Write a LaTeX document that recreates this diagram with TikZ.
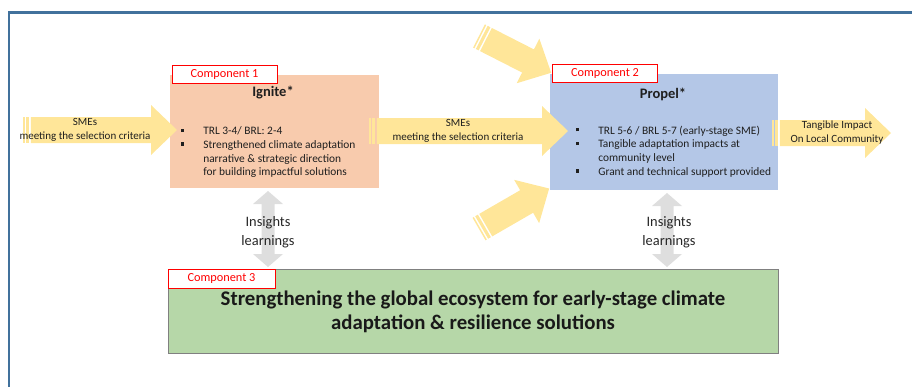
\documentclass[tikz,border=0pt]{standalone}
\usepackage{fontspec}
\setmainfont{Carlito}
\usetikzlibrary{calc}
\definecolor{framecol}{RGB}{65,113,156}
\definecolor{arrowyel}{RGB}{255,230,153}
\definecolor{ignitecol}{RGB}{248,203,173}
\definecolor{propelcol}{RGB}{180,199,231}
\definecolor{ecocol}{RGB}{182,215,168}
\definecolor{insightcol}{RGB}{222,222,222}
\def\striparrow[#1](#2)(#3:#4){%
	\begin{scope}[shift={(#2)}, rotate=#3]
		\fill[#1] (0,-13) rectangle (1.5,13);
		\fill[#1] (3.1,-13) rectangle (6.2,13);
		\fill[#1] (7.8,-13) -- ({#4-26},-13) -- ({#4-26},-25) -- (#4,0) -- ({#4-26},25) -- ({#4-26},13) -- (7.8,13) -- cycle;
	\end{scope}}
\def\twoway[#1](#2:#3:#4){\fill[#1] (#2,#3) -- ({#2+15},{#3+13}) -- ({#2+6.5},{#3+13}) -- ({#2+6.5},{#4-13}) -- ({#2+15},{#4-13}) -- (#2,#4) -- ({#2-15},{#4-13}) -- ({#2-6.5},{#4-13}) -- ({#2-6.5},{#3+13}) -- ({#2-15},{#3+13}) -- cycle;}
\newcommand{\sqb}{\rule[2.6pt]{3.6pt}{3.6pt}}

\begin{document}
\begin{tikzpicture}[x=1pt, y=-1pt,
	complabel/.style={draw=red, line width=0.9pt, fill=white, text=red, minimum width=105, minimum height=18, inner sep=0pt, font=\fontsize{12.3}{14}\selectfont},
	arrtxt/.style={align=center, inner sep=0pt, text=black!88, font=\fontsize{11}{14}\selectfont},
	boxhead/.style={inner sep=0pt, text=black!88, font=\bfseries\fontsize{14.5}{17}\selectfont},
	listtxt/.style={anchor=base west, inner sep=0pt, text=black!88, font=\fontsize{11.4}{13.7}\selectfont},
	insight/.style={align=center, inner sep=0pt, text=black!85, font=\fontsize{14.4}{18.5}\selectfont}]
			%%%%% START %%%%%
			
			\useasboundingbox (0,0) rectangle (912,386);
			\draw[framecol, line width=2.6pt] (9,12.5) rectangle (940,410);
			
			\fill[ignitecol] (170,75) rectangle (379,188);
			\fill[propelcol] (550,74) rectangle (778,190);
			\draw[ecocol, fill=ecocol, draw=black!50, line width=0.8pt] (168,269) rectangle (778,353);
			
			\twoway[insightcol](268:191:267);
			\twoway[insightcol](667:193:267);
			
			\striparrow[arrowyel](23,130)(0:154);
			\striparrow[arrowyel](369,131)(0:199);
			\striparrow[arrowyel](772,133)(0:119);
			\striparrow[arrowyel](479,36)(-27:81);
			\striparrow[arrowyel](479,229)(30:81);
			
			\node[complabel] (comp1) at (224.5,74) {Component 1};
			\node[complabel] (comp2) at (605,73) {Component 2};
			\node[complabel, minimum width=107, minimum height=19] (comp3) at (221.5,278.5) {Component 3};
			
			\node[boxhead] (ignite) at (273,93) {Ignite*};
			\node[boxhead] (propel) at (663,94) {Propel*};
			
			\node[listtxt] (ignitelist) at (180.5,134.8) {\begin{tabular}[t]{@{}l@{\hspace{19pt}}l@{}}
				\sqb & TRL 3-4/ BRL: 2-4\\
				\sqb & Strengthened climate adaptation\\
				& narrative \& strategic direction\\
				& for building impactful solutions
			\end{tabular}};
			\node[listtxt] (propellist) at (575.5,134) {\begin{tabular}[t]{@{}l@{\hspace{19pt}}l@{}}
				\sqb & TRL 5-6 / BRL 5-7 (early-stage SME)\\
				\sqb & Tangible adaptation impacts at\\
				& community level\\
				\sqb & Grant and technical support provided
			\end{tabular}};
			
			\node[arrtxt] (smesin) at (85,130) {SMEs\\meeting the selection criteria};
			\node[arrtxt] (smesmid) at (458,130.5) {SMEs\\meeting the selection criteria};
			\node[arrtxt] (impact) at (837,133) {Tangible Impact\\On Local Community};
			
			\node[insight] (insleft) at (268,232) {Insights\\learnings};
			\node[insight] (insright) at (669,232) {Insights\\learnings};
			
			\node[align=center, inner sep=0pt, text=black!90, font=\bfseries\fontsize{20.8}{24}\selectfont] (eco) at (473,312) {Strengthening the global ecosystem for early-stage climate\\adaptation \& resilience solutions};
			
			%%%%% END %%%%%
\end{tikzpicture}
\end{document}
